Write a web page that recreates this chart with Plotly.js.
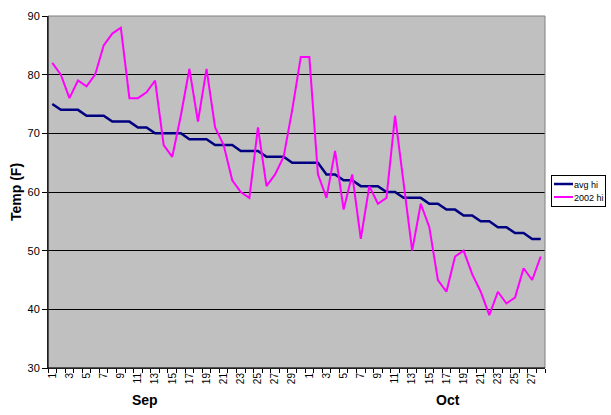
<!DOCTYPE html>
<html>
<head>
<meta charset="utf-8">
<script src="https://cdn.plot.ly/plotly-3.0.1.min.js"></script>
<style>html,body{margin:0;padding:0;background:#fff;}#chart{width:611px;height:415px;}</style>
</head>
<body>
<div id="chart"></div>
<script>
// Days shown on the category axis
const sepDays = Array.from({length: 30}, (_, i) => i + 1);
const octDays = Array.from({length: 28}, (_, i) => i + 1);
const monthLabels = ["Sep", "Oct"];

// Series values (deg F)
const avgHi = [75, 74, 74, 74, 73, 73, 73, 72, 72, 72, 71, 71, 70, 70, 70, 70, 69, 69, 69, 68,
               68, 68, 67, 67, 67, 66, 66, 66, 65, 65,
               65, 65, 63, 63, 62, 62, 61, 61, 61, 60, 60, 59, 59, 59, 58, 58, 57, 57, 56, 56,
               55, 55, 54, 54, 53, 53, 52, 52];
const hi2002 = [82, 80, 76, 79, 78, 80, 85, 87, 88, 76, 76, 77, 79, 68, 66, 73, 81, 72, 81, 71,
                68, 62, 60, 59, 71, 61, 63, 66, 74, 83,
                83, 63, 59, 67, 57, 63, 52, 61, 58, 59, 73, 61, 50, 58, 54, 45, 43, 49, 50, 46,
                43, 39, 43, 41, 42, 47, 45, 49];
const seriesNames = ["avg hi", "2002 hi"];

const dayLabels = sepDays.concat(octDays);
const idx = dayLabels.map((_, i) => i);
const tickIdx = idx.filter(i => dayLabels[i] % 2 === 1);
const tickTxt = tickIdx.map(i => String(dayLabels[i]));
const boundaryIdx = idx.concat([idx.length]).map(i => i - 0.5);
const xr = [-0.5, idx.length - 0.5];

const FONT = "Arial, 'Liberation Sans', sans-serif";

const traces = [
  {x: idx, y: avgHi, name: seriesNames[0], type: "scatter", mode: "lines",
   line: {color: "#000080", width: 2.5}, hoverinfo: "skip"},
  {x: idx, y: hi2002, name: seriesNames[1], type: "scatter", mode: "lines",
   line: {color: "#FF00FF", width: 2}, hoverinfo: "skip"},
  {x: [], y: [], xaxis: "x2", showlegend: false, hoverinfo: "skip", type: "scatter", mode: "lines"}
];

const layout = {
  width: 611, height: 415,
  margin: {l: 48, r: 66, t: 16, b: 47, autoexpand: false},
  paper_bgcolor: "#ffffff",
  plot_bgcolor: "#C0C0C0",
  font: {family: FONT, size: 11, color: "#000"},
  showlegend: true,
  legend: {x: 1.012, y: 0.55, xanchor: "left", yanchor: "top",
           bgcolor: "#ffffff", bordercolor: "#000", borderwidth: 1,
           font: {family: FONT, size: 9, color: "#000"},
           itemwidth: 30, tracegroupgap: 0},
  xaxis: {range: xr, tickmode: "array", tickvals: tickIdx, ticktext: tickTxt,
          tickangle: -90, ticks: "", showgrid: false, zeroline: false,
          showline: true, linecolor: "#000", linewidth: 1,
          tickfont: {family: FONT, size: 10, color: "#000"}, fixedrange: true},
  xaxis2: {range: xr, overlaying: "x", anchor: "y", side: "bottom",
           tickmode: "array", tickvals: boundaryIdx, ticks: "outside", ticklen: 4,
           tickcolor: "#000", tickwidth: 1, showticklabels: false,
           showgrid: false, zeroline: false, showline: false, fixedrange: true},
  yaxis: {range: [30, 90], tickmode: "linear", tick0: 30, dtick: 10,
          ticks: "outside", ticklen: 5, tickcolor: "#000",
          showline: true, linecolor: "#000", linewidth: 1,
          showgrid: true, gridcolor: "#000", gridwidth: 1, zeroline: false,
          tickfont: {family: FONT, size: 11, color: "#000"},
          title: {text: "<b>Temp (F)</b>", font: {family: FONT, size: 14, color: "#000"}, standoff: 2},
          fixedrange: true},
  shapes: [
    {type: "rect", xref: "paper", yref: "paper", x0: 0, x1: 1, y0: 0, y1: 1,
     line: {color: "#808080", width: 1}, layer: "above"},
    {type: "line", xref: "paper", yref: "paper", x0: 0, x1: 0, y0: 0, y1: 1,
     line: {color: "#000", width: 1}, layer: "above"},
    {type: "line", xref: "paper", yref: "paper", x0: 0, x1: 1, y0: 0, y1: 0,
     line: {color: "#000", width: 1}, layer: "above"}
  ],
  annotations: [
    {text: "<b>" + monthLabels[0] + "</b>", xref: "paper", yref: "paper", x: 0.195, y: -0.091,
     xanchor: "center", yanchor: "middle", showarrow: false, font: {family: FONT, size: 14, color: "#000"}},
    {text: "<b>" + monthLabels[1] + "</b>", xref: "paper", yref: "paper", x: 0.805, y: -0.091,
     xanchor: "center", yanchor: "middle", showarrow: false, font: {family: FONT, size: 14, color: "#000"}}
  ]
};

Plotly.newPlot("chart", traces, layout, {staticPlot: true, displayModeBar: false}).then(gd => {
  // Compact the legend to the reference's small Excel-style box
  const leg = gd.querySelector('.legend');
  if (!leg) return;
  const items = leg.querySelectorAll('.traces');
  items.forEach((g, k) => {
    g.setAttribute('transform', 'translate(0,' + (9 + k * 13) + ')');
    const ln = g.querySelector('.legendlines path');
    if (ln) ln.setAttribute('d', 'M3,0h19');
    const t = g.querySelector('.legendtext');
    if (t) t.setAttribute('x', 23);
  });
  const bg = leg.querySelector('.bg');
  if (bg) { bg.setAttribute('width', 54); bg.setAttribute('height', 31); }
  const sb = leg.querySelector('.scrollbox');
  if (sb) sb.setAttribute('transform', 'translate(0,0)');
  leg.querySelectorAll('clipPath rect, .legendclip rect').forEach(r => { r.setAttribute('width', 54); r.setAttribute('height', 31); });
  leg.setAttribute('transform', 'translate(551,175)');
});
</script>
</body>
</html>
